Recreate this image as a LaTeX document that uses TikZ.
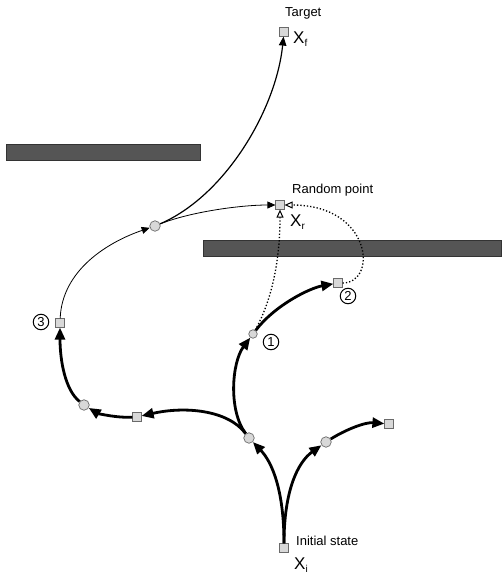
\documentclass[tikz,border=0pt]{standalone}
\usepackage{fontspec}
\setmainfont{Liberation Sans}
\usetikzlibrary{arrows.meta}
\definecolor{nodefill}{HTML}{D8D8D8}
\definecolor{nodeline}{HTML}{6A6A6A}
\definecolor{obst}{HTML}{555555}
\definecolor{obstline}{HTML}{333333}
\begin{document}
\begin{tikzpicture}[x=1pt,y=-1pt,
  sq/.style={draw=nodeline, fill=nodefill, minimum size=8.5pt, inner sep=0pt, line width=0.7pt},
  dot/.style={circle, draw=nodeline, fill=nodefill, minimum size=10.5pt, inner sep=0pt, line width=0.7pt},
  smalldot/.style={dot, minimum size=8.5pt},
  num/.style={circle, draw, line width=1pt, inner sep=0.5pt, minimum size=15.5pt, font=\fontsize{13}{13}\selectfont},
  lbl/.style={font=\fontsize{13}{13}\selectfont, inner sep=0pt, anchor=west},
  xlbl/.style={font=\fontsize{17}{17}\selectfont, inner sep=0pt, anchor=west},
  obstacle/.style={fill=obst, draw=obstline, line width=0.6pt},
  thickpath/.style={line width=2.8pt, -{Triangle[length=12pt,width=10pt]}},
  thinpath/.style={line width=0.8pt, -{Triangle[length=8pt,width=7pt]}},
  medpath/.style={line width=1.2pt, -{Triangle[length=9pt,width=7.5pt]}},
  dotpath/.style={line width=1.3pt, dotted, -{Triangle[open,length=8pt,width=7pt,line width=1pt]}}
]
\useasboundingbox (0,0) rectangle (501,575);
% obstacles
\draw[obstacle] (6,144) rectangle (200,160);
\draw[obstacle] (203,240) rectangle (501,256);
% nodes
\node[sq] (xf) at (284,32) {};
\node[sq] (xr) at (280,205) {};
\node[sq] (xi) at (284,548) {};
\node[dot] (c155) at (155,226) {};
\node[sq] (s3) at (60,323) {};
\node[sq] (s2) at (338,283) {};
\node[smalldot] (n1) at (253,334) {};
\node[dot] (c84) at (84,405) {};
\node[sq] (s137) at (137,417) {};
\node[dot] (c1) at (249,438) {};
\node[dot] (c2) at (326,442) {};
\node[sq] (s389) at (389,424) {};
% circled numbers
\node[num] (k3) at (41,322) {3};
\node[num] (k2) at (348,296) {2};
\node[num] (k1) at (271,342) {1};
% labels
\node[lbl] (tl) at (285,13) {Target};
\node[xlbl] (xfl) at (293,39) {X\raisebox{-3pt}{\fontsize{10}{10}\selectfont f}};
\node[lbl] (rl) at (292,190) {Random point};
\node[xlbl] (xrl) at (290,222) {X\raisebox{-3pt}{\fontsize{10}{10}\selectfont r}};
\node[lbl] (il) at (296,541) {Initial state};
\node[xlbl] (xil) at (294,565) {X\raisebox{-2.5pt}{\fontsize{10}{10}\selectfont i}};
% thick tree edges
\draw[thickpath] (xi) .. controls (284,490) and (272,462) .. (c1);
\draw[thickpath] (xi) .. controls (284,490) and (298,462) .. (c2);
\draw[thickpath] (c2) .. controls (345,430) and (365,422) .. (s389);
\draw[thickpath] (c1) .. controls (228,410) and (185,406) .. (s137);
\draw[thickpath] (s137) .. controls (115,418) and (97,413) .. (c84);
\draw[thickpath] (c84) .. controls (65,390) and (60,360) .. (s3);
\draw[thickpath] (c1) .. controls (228,410) and (232,362) .. (n1);
\draw[thickpath] (n1) .. controls (275,305) and (310,288) .. (s2);
% thin edges
\draw[thinpath] (s3) .. controls (62,270) and (108,242) .. (c155);
\draw[thinpath] (c155) .. controls (190,212) and (240,205) .. (xr);
\draw[medpath] (c155) .. controls (225,196) and (276,110) .. (xf);
% dotted edges
\draw[dotpath] (n1) .. controls (272,300) and (280,260) .. (xr);
\draw[dotpath] (s2) .. controls (378,283) and (372,205) .. (xr);
\end{tikzpicture}
\end{document}
